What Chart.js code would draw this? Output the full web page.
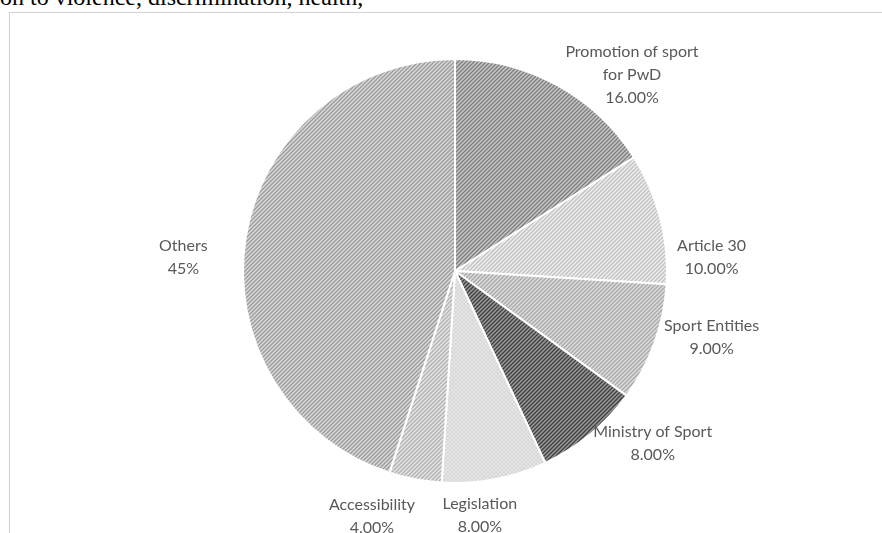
<!DOCTYPE html>
<html>
<head>
<meta charset="utf-8">
<script src="https://cdn.jsdelivr.net/npm/chart.js@4.4.1/dist/chart.umd.min.js"></script>
<style>
  html, body { margin: 0; padding: 0; background: #fff; overflow: hidden; }
  body { width: 882px; height: 533px; position: relative; }
  #lead {
    position: absolute; left: 0; top: -16px; margin: 0;
    font-family: "Liberation Serif", "DejaVu Serif", serif; font-size: 24px;
    color: #000; white-space: nowrap;
  }
  #frame {
    position: absolute; left: 9px; top: 12px; width: 900px; height: 560px;
    border: 1px solid #d3d3d3; box-shadow: 1px 1px 2px #e2e2e2;
  }
  #wrap { position: absolute; left: 0; top: 0; width: 882px; height: 533px; }
</style>
</head>
<body>
<p id="lead">on to violence, discrimination, health,</p>
<div id="frame"></div>
<div id="wrap"><canvas id="chart" width="882" height="533"></canvas></div>
<script>
const topics = ['Promotion of sport\nfor PwD', 'Article 30', 'Sport Entities', 'Ministry of Sport', 'Legislation', 'Accessibility', 'Others'];
const shares = [16, 10, 9, 8, 8, 4, 45];
const shareDigits = [2, 2, 2, 2, 2, 2, 0];

// hatch colours: [stripe, background, crossed]
const hatches = [
  ['#7d7d7d', '#c9c9c9', false],
  ['#c2c2c2', '#efefef', false],
  ['#a8a8a8', '#dedede', false],
  ['#3f3f3f', '#9c9c9c', false],
  ['#d6d6d6', '#f6f6f6', true],
  ['#b2b2b2', '#e6e6e6', false],
  ['#9c9c9c', '#dadada', false],
];

// where each label sits: angle clockwise from 12 o'clock (deg), distance from centre (px)
const labelSpots = [[42.1, 264], [86.9, 257], [104.4, 265], [131, 262], [174.2, 246], [198.7, 259], [272.9, 272]];

function makeHatch(fg, bg, crossed) {
  const c = document.createElement('canvas');
  c.width = 4; c.height = 4;
  const g = c.getContext('2d');
  g.fillStyle = bg;
  g.fillRect(0, 0, 4, 4);
  g.strokeStyle = fg;
  g.lineWidth = 1.4;
  g.beginPath();
  g.moveTo(-1, 5); g.lineTo(5, -1);
  g.moveTo(-1, 1); g.lineTo(1, -1);
  g.moveTo(3, 5); g.lineTo(5, 3);
  if (crossed) {
    g.moveTo(-1, -1); g.lineTo(5, 5);
  }
  g.stroke();
  return g.createPattern(c, 'repeat');
}

const sliceLabels = {
  id: 'sliceLabels',
  afterDatasetsDraw(chart) {
    const ctx = chart.ctx;
    const arcs = chart.getDatasetMeta(0).data;
    ctx.save();
    ctx.font = '16px Lato, "Open Sans", sans-serif';
    ctx.fillStyle = '#595959';
    ctx.textAlign = 'center';
    ctx.textBaseline = 'middle';
    arcs.forEach((arc, i) => {
      const a = (labelSpots[i][0] - 90) * Math.PI / 180;
      const x = arc.x + Math.cos(a) * labelSpots[i][1];
      const y = arc.y + Math.sin(a) * labelSpots[i][1];
      const lines = topics[i].split('\n').concat(shares[i].toFixed(shareDigits[i]) + '%');
      const lh = 23;
      const y0 = y - (lines.length - 1) * lh / 2;
      lines.forEach((t, k) => ctx.fillText(t, x, y0 + k * lh));
    });
    ctx.restore();
  }
};

new Chart(document.getElementById('chart'), {
  type: 'pie',
  data: {
    labels: topics,
    datasets: [{
      data: shares,
      backgroundColor: hatches.map(h => makeHatch(h[0], h[1], h[2])),
      borderColor: '#ffffff',
      borderWidth: 2,
      radius: 212,
    }],
  },
  options: {
    responsive: false,
    animation: false,
    layout: { padding: { left: 28, top: 9 } },
    plugins: {
      legend: { display: false },
      tooltip: { enabled: false },
    },
  },
  plugins: [sliceLabels],
});
</script>
</body>
</html>
